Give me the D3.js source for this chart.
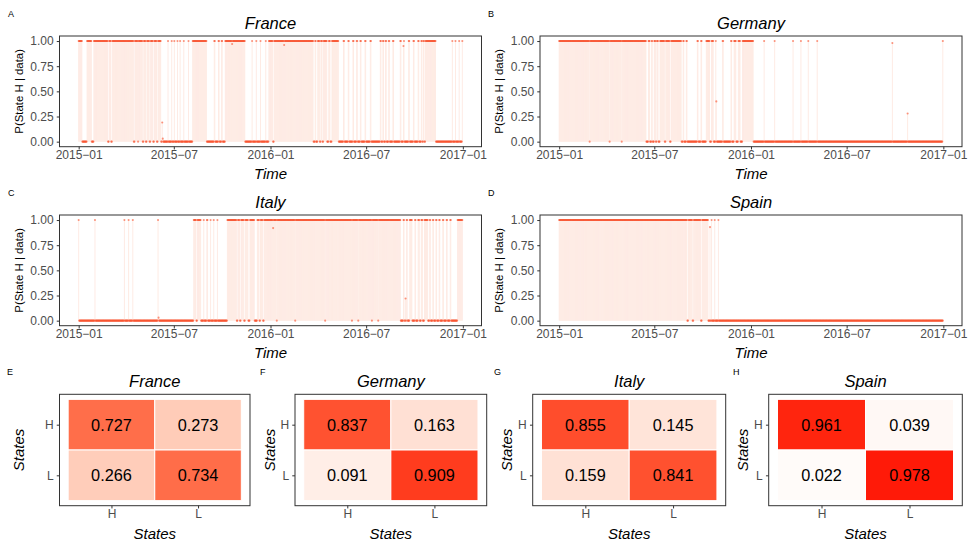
<!DOCTYPE html>
<html>
<head>
<meta charset="utf-8">
<script src="https://cdn.jsdelivr.net/npm/d3@7"></script>
<style>
  body { margin: 0; background: #fff; }
  text { font-family: "Liberation Sans", Arial, Helvetica, sans-serif; }
</style>
</head>
<body>
<svg id="chart" width="969" height="545"></svg>
<script>
// ---- data ----
const countries = ['France', 'Germany', 'Italy', 'Spain'];
const tsLetters = ['A', 'B', 'C', 'D'];
const hmLetters = ['E', 'F', 'G', 'H'];
const startDate = '2015-01-01';
const nDays = 731;
const tickDates = ['2015-01-01', '2015-07-01', '2016-01-01', '2016-07-01', '2017-01-01'];
const probTicks = [0, 0.25, 0.5, 0.75, 1];

// days (index from startDate) where P(State H) is ~1, as [first, last]
const runsFrance = [[0,6],[16,24],[29,55],[58,61],[64,104],[107,112],[114,121],[124,127],[130,134],[137,141],[144,148],[151,156],[170,170],[177,177],[182,182],[188,188],[193,193],[200,200],[209,209],[217,243],[258,259],[266,267],[272,273],[279,316],[330,330],[338,338],[346,346],[356,356],[362,369],[372,446],[450,451],[455,458],[461,463],[466,472],[476,478],[482,494],[504,505],[513,514],[522,523],[529,530],[536,537],[545,546],[555,556],[574,575],[579,580],[584,585],[590,591],[598,599],[612,613],[618,619],[628,629],[637,638],[646,647],[652,653],[656,657],[660,679],[711,711],[717,717],[724,724],[730,730]];
const runsGermany = [[0,57],[59,95],[97,118],[120,165],[170,172],[176,177],[181,183],[186,188],[192,200],[203,210],[213,232],[236,237],[242,243],[263,264],[270,271],[280,286],[290,293],[298,298],[311,312],[327,328],[333,336],[341,344],[349,369],[390,390],[410,410],[445,445],[460,460],[474,474],[491,491],[730,730]];
const runsItaly = [[0,0],[31,31],[87,87],[95,95],[103,103],[151,151],[219,223],[226,232],[238,238],[244,245],[251,251],[257,257],[264,264],[283,300],[303,306],[309,314],[317,322],[326,334],[340,343],[346,350],[353,376],[378,411],[413,468],[470,519],[521,531],[533,557],[559,569],[571,612],[618,619],[624,625],[630,634],[640,641],[646,648],[652,654],[658,664],[668,669],[674,675],[680,681],[686,687],[693,694],[700,701],[707,708],[721,730]];
const runsSpain = [[0,243],[246,253],[256,269],[272,283],[290,290],[296,296],[303,303]];

// the few days with an in-between probability, as [day, value]
const midFrance = [[159,0.19],[160,0.03],[292,0.97],[391,0.96],[618,0.95]];
const midGermany = [[299,0.40],[634,0.98],[663,0.28]];
const midItaly = [[152,0.03],[370,0.92],[622,0.22]];
const midSpain = [[287,0.93]];

// transition matrices, rows = from (H, L), cols = to (H, L)
const states = ['H', 'L'];
const transFrance = [[0.727, 0.273], [0.266, 0.734]];
const transGermany = [[0.837, 0.163], [0.091, 0.909]];
const transItaly = [[0.855, 0.145], [0.159, 0.841]];
const transSpain = [[0.961, 0.039], [0.022, 0.978]];

const allRuns = [runsFrance, runsGermany, runsItaly, runsSpain];
const allMid = [midFrance, midGermany, midItaly, midSpain];
const allTrans = [transFrance, transGermany, transItaly, transSpain];

// ---- layout ----
const tsBoxes = [
  { x0: 59.5, x1: 481.5, y0: 36, y1: 146.7, lx: 8, ly: 16.5, yl: 22.5 },
  { x0: 540, x1: 962, y0: 36, y1: 146.7, lx: 488, ly: 16.5, yl: 502.5 },
  { x0: 59.5, x1: 481.5, y0: 215, y1: 325.7, lx: 8, ly: 195.5, yl: 22.5 },
  { x0: 540, x1: 962, y0: 215, y1: 325.7, lx: 488, ly: 195.5, yl: 502.5 }
];
const hmBoxes = [
  { x0: 59.5, x1: 250, lx: 7, yl: 23.5 },
  { x0: 295, x1: 486.7, lx: 260, yl: 275 },
  { x0: 532.7, x1: 725.7, lx: 494, yl: 511.5 },
  { x0: 768.7, x1: 962.3, lx: 733, yl: 748 }
];
const hmY0 = 394.3, hmY1 = 505.7;

const pointCol = '#f94f2a';
const barCol = '#feebe4';
const grey = '#4d4d4d';
const fmtDate = d3.timeFormat('%Y\u2212%m');
const parse = d3.timeParse('%Y-%m-%d');
const d0 = parse(startDate);

const svg = d3.select('#chart');

function buildSeries (runs, mids) {
  const vals = new Array(nDays).fill(0);
  runs.forEach(r => { for (let i = r[0]; i <= r[1]; i++) vals[i] = 1; });
  mids.forEach(m => { vals[m[0]] = m[1]; });
  return vals.map((v, i) => ({ date: d3.timeDay.offset(d0, i), value: v }));
}

function styleAxis (g) {
  g.select('.domain').remove();
  g.selectAll('line').attr('stroke', '#333');
  g.selectAll('text').attr('fill', grey).style('font-size', '12px')
    .style('font-family', '"Liberation Sans", Arial, sans-serif');
}

//TIME SERIES PANELS
countries.forEach((c, k) => {
  const b = tsBoxes[k];
  const series = buildSeries(allRuns[k], allMid[k]);
  const t0 = series[0].date, t1 = series[series.length - 1].date;
  const pad = (t1 - t0) * 0.05;
  const x = d3.scaleTime()
    .domain([new Date(+t0 - pad), new Date(+t1 + pad)])
    .range([b.x0, b.x1]);
  const y = d3.scaleLinear().domain([-0.05, 1.05]).range([b.y1, b.y0]);
  const dayW = Math.max(1, x(d3.timeDay.offset(t0, 1)) - x(t0));

  const g = svg.append('g');

  //bars
  g.append('g').selectAll('rect')
    .data(series.filter(d => d.value > 0))
    .enter().append('rect')
      .attr('x', d => x(d.date) - dayW / 2)
      .attr('y', d => y(d.value))
      .attr('width', dayW)
      .attr('height', d => y(0) - y(d.value))
      .attr('fill', barCol);

  //points
  g.append('g').selectAll('circle')
    .data(series)
    .enter().append('circle')
      .attr('cx', d => x(d.date))
      .attr('cy', d => y(d.value))
      .attr('r', 1.05)
      .attr('fill', pointCol)
      .attr('fill-opacity', 0.6);

  //border
  g.append('rect')
    .attr('x', b.x0).attr('y', b.y0)
    .attr('width', b.x1 - b.x0).attr('height', b.y1 - b.y0)
    .attr('fill', 'none').attr('stroke', '#333').attr('stroke-width', 1);

  //axes
  g.append('g')
    .attr('transform', `translate(0,${b.y1})`)
    .call(d3.axisBottom(x).tickValues(tickDates.map(parse)).tickFormat(fmtDate)
      .tickSize(2.75).tickPadding(1))
    .call(styleAxis);
  g.append('g')
    .attr('transform', `translate(${b.x0},0)`)
    .call(d3.axisLeft(y).tickValues(probTicks).tickFormat(d3.format('.2f'))
      .tickSize(2.75).tickPadding(3.2))
    .call(styleAxis);

  //titles
  const cx = (b.x0 + b.x1) / 2;
  g.append('text')
    .attr('x', cx).attr('y', b.y0 - 7.5)
    .attr('text-anchor', 'middle')
    .style('font-size', '16.5px').style('font-style', 'italic')
    .text(c);
  g.append('text')
    .attr('x', cx).attr('y', b.y1 + 32.3)
    .attr('text-anchor', 'middle')
    .style('font-size', '15px').style('font-style', 'italic')
    .text('Time');
  g.append('text')
    .attr('transform', `translate(${b.yl},${(b.y0 + b.y1) / 2}) rotate(-90)`)
    .attr('text-anchor', 'middle')
    .style('font-size', '11.4px')
    .text('P(State H | data)');
  g.append('text')
    .attr('x', b.lx).attr('y', b.ly)
    .style('font-size', '9px')
    .text(tsLetters[k]);
});

//HEATMAPS
const fill = d3.scaleLinear().domain([0, 1]).range(['#ffffff', '#ff0000'])
  .interpolate(d3.interpolateLab);

countries.forEach((c, k) => {
  const b = hmBoxes[k];
  const x = d3.scaleLinear().domain([0.4, 2.6]).range([b.x0, b.x1]);
  const y = d3.scaleLinear().domain([0.4, 2.6]).range([hmY1, hmY0]);
  const xPos = s => states.indexOf(s) + 1;          // H=1, L=2
  const yPos = s => states.length - states.indexOf(s); // H on top

  const cells = [];
  states.forEach((from, i) => states.forEach((to, j) => {
    cells.push({ from: from, to: to, value: allTrans[k][i][j] });
  }));

  const g = svg.append('g');

  g.append('g').selectAll('rect')
    .data(cells)
    .enter().append('rect')
      .attr('x', d => x(xPos(d.to) - 0.5))
      .attr('y', d => y(yPos(d.from) + 0.5))
      .attr('width', d => x(xPos(d.to) + 0.5) - x(xPos(d.to) - 0.5))
      .attr('height', d => y(yPos(d.from) - 0.5) - y(yPos(d.from) + 0.5))
      .attr('fill', d => fill(d.value))
      .attr('stroke', '#fff').attr('stroke-width', 1);

  g.append('g').selectAll('text')
    .data(cells)
    .enter().append('text')
      .attr('x', d => x(xPos(d.to)))
      .attr('y', d => y(yPos(d.from)))
      .attr('dy', '0.36em')
      .attr('text-anchor', 'middle')
      .style('font-size', '16.3px')
      .text(d => d3.format('.3f')(d.value));

  g.append('rect')
    .attr('x', b.x0).attr('y', hmY0)
    .attr('width', b.x1 - b.x0).attr('height', hmY1 - hmY0)
    .attr('fill', 'none').attr('stroke', '#333').attr('stroke-width', 1);

  g.append('g')
    .attr('transform', `translate(0,${hmY1})`)
    .call(d3.axisBottom(x).tickValues(states.map(xPos)).tickFormat(v => states[v - 1])
      .tickSize(2.75).tickPadding(1))
    .call(styleAxis);
  g.append('g')
    .attr('transform', `translate(${b.x0},0)`)
    .call(d3.axisLeft(y).tickValues(states.map(yPos))
      .tickFormat(v => states[states.length - v])
      .tickSize(2.75).tickPadding(3.2))
    .call(styleAxis);

  const cx = (b.x0 + b.x1) / 2;
  g.append('text')
    .attr('x', cx).attr('y', 386.5)
    .attr('text-anchor', 'middle')
    .style('font-size', '16.5px').style('font-style', 'italic')
    .text(c);
  g.append('text')
    .attr('x', cx).attr('y', 538.5)
    .attr('text-anchor', 'middle')
    .style('font-size', '15px').style('font-style', 'italic')
    .text('States');
  g.append('text')
    .attr('transform', `translate(${b.yl},${(hmY0 + hmY1) / 2}) rotate(-90)`)
    .attr('text-anchor', 'middle')
    .style('font-size', '15px').style('font-style', 'italic')
    .text('States');
  g.append('text')
    .attr('x', b.lx).attr('y', 375)
    .style('font-size', '9px')
    .text(hmLetters[k]);
});
</script>
</body>
</html>
